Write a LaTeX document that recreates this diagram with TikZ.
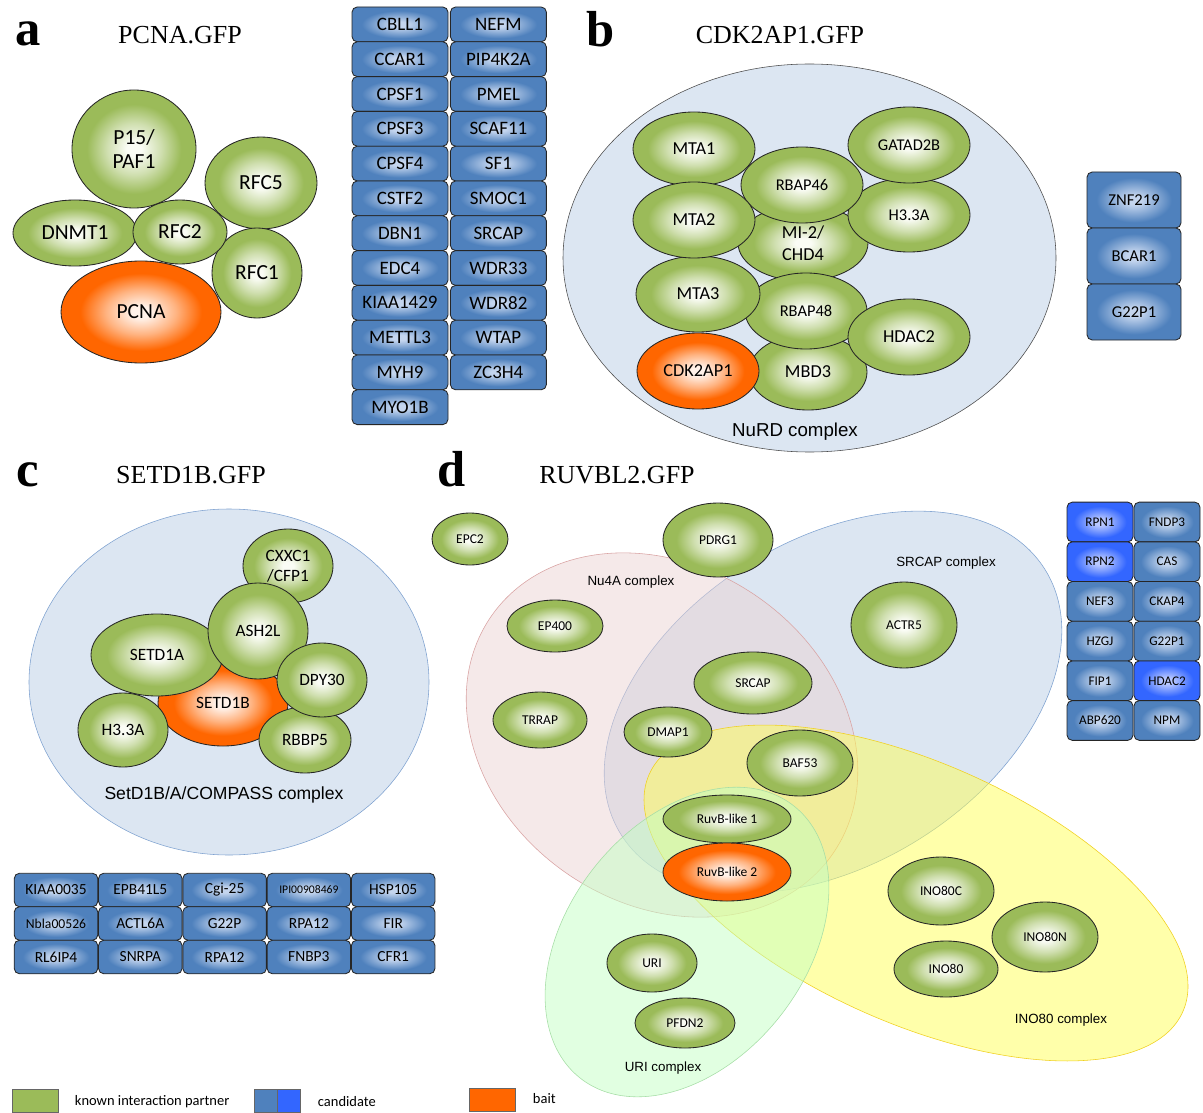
\documentclass[tikz,border=0pt]{standalone}
\usepackage{fontspec}
\setmainfont{Liberation Serif}
\newfontfamily\calfont{Carlito}
\newfontfamily\arfont{Liberation Sans}
\usepackage{xcolor}
\usepackage{tikz}
\usetikzlibrary{shapes.geometric, positioning}

\definecolor{leaf}{HTML}{9BBB59}
\definecolor{leafcore}{HTML}{FAFCF5}
\definecolor{bait}{HTML}{FF6600}
\definecolor{baitcore}{HTML}{FFF2EA}
\definecolor{cand}{HTML}{4F81BD}
\definecolor{candcore}{HTML}{C4D5EE}
\definecolor{candhi}{HTML}{3366FF}
\definecolor{candhicore}{HTML}{B9C8FF}
\definecolor{cplxfill}{HTML}{DCE6F2}
\definecolor{srcapfill}{HTML}{B9CDE5}
\definecolor{srcapline}{HTML}{7FA2D0}
\definecolor{nufill}{HTML}{EBD3D3}
\definecolor{nuline}{HTML}{D9A3A3}
\definecolor{inofill}{HTML}{FFFF55}
\definecolor{inoline}{HTML}{F0D020}
\definecolor{urifill}{HTML}{C3FFC3}
\definecolor{uriline}{HTML}{A6DDA6}

\pgfdeclareradialshading{leafball}{\pgfpoint{0bp}{0bp}}{color(0bp)=(leafcore); color(3bp)=(leafcore); color(11bp)=(leaf!45!leafcore); color(19bp)=(leaf); color(50bp)=(leaf)}
\pgfdeclareradialshading{baitball}{\pgfpoint{0bp}{0bp}}{color(0bp)=(baitcore); color(3bp)=(baitcore); color(11bp)=(bait!45!baitcore); color(19bp)=(bait); color(50bp)=(bait)}
\pgfdeclareradialshading{candglow}{\pgfpoint{0bp}{0bp}}{color(0bp)=(candcore); color(4bp)=(candcore); color(20bp)=(cand); color(50bp)=(cand)}
\pgfdeclareradialshading{candhiglow}{\pgfpoint{0bp}{0bp}}{color(0bp)=(candhicore); color(4bp)=(candhicore); color(20bp)=(candhi); color(50bp)=(candhi)}

\newcommand\szA{\calfont\fontsize{15.3}{17.7}\selectfont}
\newcommand\szAc{\calfont\fontsize{13.5}{15}\selectfont}
\newcommand\szB{\calfont\fontsize{13}{15.4}\selectfont}
\newcommand\szBs{\calfont\fontsize{11.7}{13}\selectfont}
\newcommand\szBc{\calfont\fontsize{11.8}{13}\selectfont}
\newcommand\szC{\calfont\fontsize{12.3}{14.2}\selectfont}
\newcommand\szCc{\calfont\fontsize{11}{12}\selectfont}
\newcommand\szD{\calfont\fontsize{9.6}{11}\selectfont}
\newcommand\szDc{\calfont\fontsize{9.4}{11}\selectfont}
\newcommand\szLeg{\calfont\fontsize{10.3}{12}\selectfont}
\newcommand\szTitle{\rmfamily\fontsize{18.5}{20}\selectfont}
\newcommand\szLetter{\rmfamily\bfseries\fontsize{36}{36}\selectfont}

\tikzset{
  rr/.style 2 args={minimum width=#1*0.5mm, minimum height=#2*0.5mm},
  bx/.style 2 args={minimum width=#1*0.25mm, minimum height=#2*0.25mm},
  prot/.style={ellipse, draw=black!85, line width=0.6pt, shading=leafball, inner sep=0pt, align=center},
  baitprot/.style={prot, shading=baitball},
  candbox/.style={rectangle, rounded corners=1.3mm, draw=black!85, line width=0.6pt, shading=candglow, inner sep=0pt, outer sep=0pt},
  candhibox/.style={candbox, shading=candhiglow},
  acand/.style={candbox, bx={96}{34.8}, font=\szAc},
  bcand/.style={candbox, bx={94}{56}, font=\szBc},
  ccand/.style={candbox, bx={83.5}{33.5}, font=\szCc},
  dcand/.style={candbox, bx={66}{39.7}, font=\szDc},
  cplx/.style={ellipse, inner sep=0pt, line width=0.4pt},
  leg/.style={rectangle, draw=black!60, line width=0.4pt, bx={46}{23}, inner sep=0pt, outer sep=0pt},
}

\begin{document}
\begin{tikzpicture}[x=0.25mm, y=0.25mm]
\useasboundingbox (0,0) rectangle (1203,-1113);

% a: PCNA
\node[anchor=base west, font=\szLetter] (la) at (11,-46) {a};
\node[font=\szTitle] (ta) at (180,-35) {PCNA.GFP};
\node[prot, rr={62}{59}, font=\szA] (paf1) at (134,-149) {P15/\\PAF1};
\node[prot, rr={56}{46}, font=\szA] (rfc5) at (261,-183) {RFC5};
\node[prot, rr={45}{45}, font=\szA] (rfc1) at (257,-273) {RFC1};
\node[prot, rr={62}{33}, font=\szA] (dnmt1) at (75,-233) {DNMT1};
\node[prot, rr={47}{32}, font=\szA] (rfc2) at (180,-232) {RFC2};
\node[baitprot, rr={80}{51}, font=\szA] (pcna) at (141,-312) {PCNA};

\node[acand] (cbll1) at (400,-24.4) {CBLL1};
\node[acand, below=0pt of cbll1] (ccar1) {CCAR1};
\node[acand, below=0pt of ccar1] (cpsf1) {CPSF1};
\node[acand, below=0pt of cpsf1] (cpsf3) {CPSF3};
\node[acand, below=0pt of cpsf3] (cpsf4) {CPSF4};
\node[acand, below=0pt of cpsf4] (cstf2) {CSTF2};
\node[acand, below=0pt of cstf2] (dbn1) {DBN1};
\node[acand, below=0pt of dbn1] (edc4) {EDC4};
\node[acand, below=0pt of edc4] (kiaa1429) {KIAA1429};
\node[acand, below=0pt of kiaa1429] (mettl3) {METTL3};
\node[acand, below=0pt of mettl3] (myh9) {MYH9};
\node[acand, below=0pt of myh9] (myo1b) {MYO1B};
\node[acand, right=0.6mm of cbll1] (nefm) {NEFM};
\node[acand, below=0pt of nefm] (pip4k2a) {PIP4K2A};
\node[acand, below=0pt of pip4k2a] (pmel) {PMEL};
\node[acand, below=0pt of pmel] (scaf11) {SCAF11};
\node[acand, below=0pt of scaf11] (sf1) {SF1};
\node[acand, below=0pt of sf1] (smoc1) {SMOC1};
\node[acand, below=0pt of smoc1] (a-srcap) {SRCAP};
\node[acand, below=0pt of a-srcap] (wdr33) {WDR33};
\node[acand, below=0pt of wdr33] (wdr82) {WDR82};
\node[acand, below=0pt of wdr82] (wtap) {WTAP};
\node[acand, below=0pt of wtap] (zc3h4) {ZC3H4};

% b: CDK2AP1
\node[anchor=base west, font=\szLetter] (lb) at (582,-47) {b};
\node[font=\szTitle] (tb) at (780,-35) {CDK2AP1.GFP};
\node[cplx, fill=cplxfill, draw=black!70, rr={246.5}{194}] (nurd) at (809.5,-258) {};
\node[font=\arfont\fontsize{13.3}{15}\selectfont] (nurdl) at (795,-432) {NuRD complex};
\node[prot, rr={65}{38}, font=\szB] (mi2) at (803,-243) {MI-2/\\CHD4};
\node[prot, rr={59}{38}, font=\szB] (mbd3) at (808,-372) {MBD3};
\node[prot, rr={61}{38}, font=\szBs] (rbap48) at (806,-311) {RBAP48};
\node[prot, rr={62}{38}, font=\szB] (mta3) at (698,-294) {MTA3};
\node[baitprot, rr={61}{38}, font=\szB] (cdk2ap1) at (698,-371) {CDK2AP1};
\node[prot, rr={61}{38}, font=\szB] (b-hdac2) at (909,-337) {HDAC2};
\node[prot, rr={61}{37}, font=\szBs] (b-h33a) at (909,-215) {H3.3A};
\node[prot, rr={61}{38}, font=\szBs] (gatad2b) at (909,-145) {GATAD2B};
\node[prot, rr={61}{37}, font=\szB] (mta1) at (694,-149) {MTA1};
\node[prot, rr={61}{38}, font=\szBs] (rbap46) at (802,-185) {RBAP46};
\node[prot, rr={61}{38}, font=\szB] (mta2) at (694,-220) {MTA2};

\node[bcand] (znf219) at (1134,-200) {ZNF219};
\node[bcand, below=0pt of znf219] (bcar1) {BCAR1};
\node[bcand, below=0pt of bcar1] (b-g22p1) {G22P1};

% c: SETD1B
\node[anchor=base west, font=\szLetter] (lc) at (12,-486) {c};
\node[font=\szTitle] (tc) at (191,-475) {SETD1B.GFP};
\node[cplx, fill=cplxfill, draw=srcapline, rr={200}{173}] (compass) at (229,-682) {};
\node[font=\arfont\fontsize{12.5}{14}\selectfont] (compassl) at (224,-795) {SetD1B/A/COMPASS complex};
\node[prot, rr={45}{37}, font=\szC] (cxxc1) at (288,-566) {CXXC1\\/CFP1};
\node[baitprot, rr={65}{43}, font=\szC] (setd1b) at (223,-703) {SETD1B};
\node[prot, rr={66}{41}, font=\szC] (setd1a) at (157,-655) {SETD1A};
\node[prot, rr={50}{48}, font=\szC] (ash2l) at (258,-631) {ASH2L};
\node[prot, rr={45}{37}, font=\szC] (c-h33a) at (123,-730) {H3.3A};
\node[prot, rr={46}{33}, font=\szC] (rbbp5) at (305,-740) {RBBP5};
\node[prot, rr={45}{37}, font=\szC] (dpy30) at (322,-680) {DPY30};

\node[ccand] (kiaa0035) at (56,-890) {KIAA0035};
\node[ccand, right=0.2mm of kiaa0035] (epb41l5) {EPB41L5};
\node[ccand, right=0.2mm of epb41l5] (cgi25) {Cgi-25};
\node[ccand, right=0.2mm of cgi25, font=\calfont\fontsize{8.3}{10}\selectfont] (ipi) {IPI00908469};
\node[ccand, right=0.2mm of ipi] (hsp105) {HSP105};
\node[ccand, below=0pt of kiaa0035, font=\calfont\fontsize{9.7}{11}\selectfont] (nbla) {Nbla00526};
\node[ccand, below=0pt of epb41l5] (actl6a) {ACTL6A};
\node[ccand, below=0pt of cgi25] (g22p) {G22P};
\node[ccand, below=0pt of ipi] (rpa12a) {RPA12};
\node[ccand, below=0pt of hsp105] (fir) {FIR};
\node[ccand, below=0pt of nbla] (rl6ip4) {RL6IP4};
\node[ccand, below=0pt of actl6a] (snrpa) {SNRPA};
\node[ccand, below=0pt of g22p] (rpa12b) {RPA12};
\node[ccand, below=0pt of rpa12a] (fnbp3) {FNBP3};
\node[ccand, below=0pt of fir] (cfr1) {CFR1};

% d: RUVBL2
\node[anchor=base west, font=\szLetter] (ld) at (433,-486) {d};
\node[font=\szTitle] (td) at (617,-475) {RUVBL2.GFP};
\node[cplx, fill=srcapfill, draw=srcapline, fill opacity=.5, rr={250}{162}, rotate=32] (srcapc) at (833,-702) {};
\node[cplx, fill=nufill, draw=nuline, fill opacity=.5, rr={208}{168}, rotate=-35] (nu4a) at (662,-735) {};
\node[cplx, fill=inofill, draw=inoline, fill opacity=.5, rr={292}{130}, rotate=-24] (ino80c) at (916,-893) {};
\node[cplx, fill=urifill, draw=uriline, fill opacity=.5, rr={173}{119}, rotate=52] (uric) at (687,-942) {};
\node[font=\arfont\fontsize{9.5}{11}\selectfont] (nu4al) at (631,-582) {Nu4A complex};
\node[font=\arfont\fontsize{9.5}{11}\selectfont] (srcapl) at (946,-563) {SRCAP complex};
\node[font=\arfont\fontsize{9.5}{11}\selectfont] (ino80l) at (1061,-1020) {INO80 complex};
\node[font=\arfont\fontsize{9.5}{11}\selectfont] (uril) at (663,-1068) {URI complex};

\node[prot, rr={38}{26}, font=\szD] (epc2) at (470,-539) {EPC2};
\node[prot, rr={55}{37}, font=\szD] (pdrg1) at (718,-540) {PDRG1};
\node[prot, rr={48}{26}, font=\szD] (ep400) at (555,-626) {EP400};
\node[prot, rr={47}{28}, font=\szD] (trrap) at (540,-720) {TRRAP};
\node[prot, rr={59}{31}, font=\szD] (d-srcap) at (753,-683) {SRCAP};
\node[prot, rr={44}{25}, font=\szD] (dmap1) at (668,-732) {DMAP1};
\node[prot, rr={53}{33}, font=\szD] (baf53) at (800,-763) {BAF53};
\node[prot, rr={64}{24}, font=\szD] (ruvb1) at (727,-819) {RuvB-like 1};
\node[baitprot, rr={64}{29}, font=\szD] (ruvb2) at (727,-872) {RuvB-like 2};
\node[prot, rr={53}{43}, font=\szD] (actr5) at (904,-625) {ACTR5};
\node[prot, rr={53}{34}, font=\szD] (ino80cn) at (941,-891) {INO80C};
\node[prot, rr={53}{35}, font=\szD] (ino80n) at (1045,-937) {INO80N};
\node[prot, rr={52}{28}, font=\szD] (ino80) at (946,-969) {INO80};
\node[prot, rr={45}{29}, font=\szD] (uri) at (652,-963) {URI};
\node[prot, rr={50}{25}, font=\szD] (pfdn2) at (685,-1023) {PFDN2};

\node[dcand, candhibox] (rpn1) at (1100,-522) {RPN1};
\node[dcand, candhibox, below=0pt of rpn1] (rpn2) {RPN2};
\node[dcand, below=0pt of rpn2] (nef3) {NEF3};
\node[dcand, below=0pt of nef3] (hzgj) {HZGJ};
\node[dcand, below=0pt of hzgj] (fip1) {FIP1};
\node[dcand, below=0pt of fip1] (abp620) {ABP620};
\node[dcand, right=0.25mm of rpn1] (fndp3) {FNDP3};
\node[dcand, below=0pt of fndp3] (cas) {CAS};
\node[dcand, below=0pt of cas] (ckap4) {CKAP4};
\node[dcand, below=0pt of ckap4] (d-g22p1) {G22P1};
\node[dcand, candhibox, below=0pt of d-g22p1] (d-hdac2) {HDAC2};
\node[dcand, below=0pt of d-hdac2] (npm) {NPM};

% legend
\node[leg, fill=leaf] (kleg) at (35,-1100.5) {};
\node[anchor=west, font=\szLeg] (klegt) at (70,-1102) {known interaction partner};
\node[leg, fill=cand, bx={23}{23}] (cleg) at (265.5,-1100.5) {};
\node[leg, fill=candhi, bx={23}{23}, right=0pt of cleg] (chleg) {};
\node[anchor=west, font=\szLeg] (clegt) at (313,-1102) {candidate};
\node[leg, fill=bait] (bleg) at (492,-1099.5) {};
\node[anchor=west, font=\szLeg] (blegt) at (528,-1099) {bait};
\end{tikzpicture}
\end{document}
